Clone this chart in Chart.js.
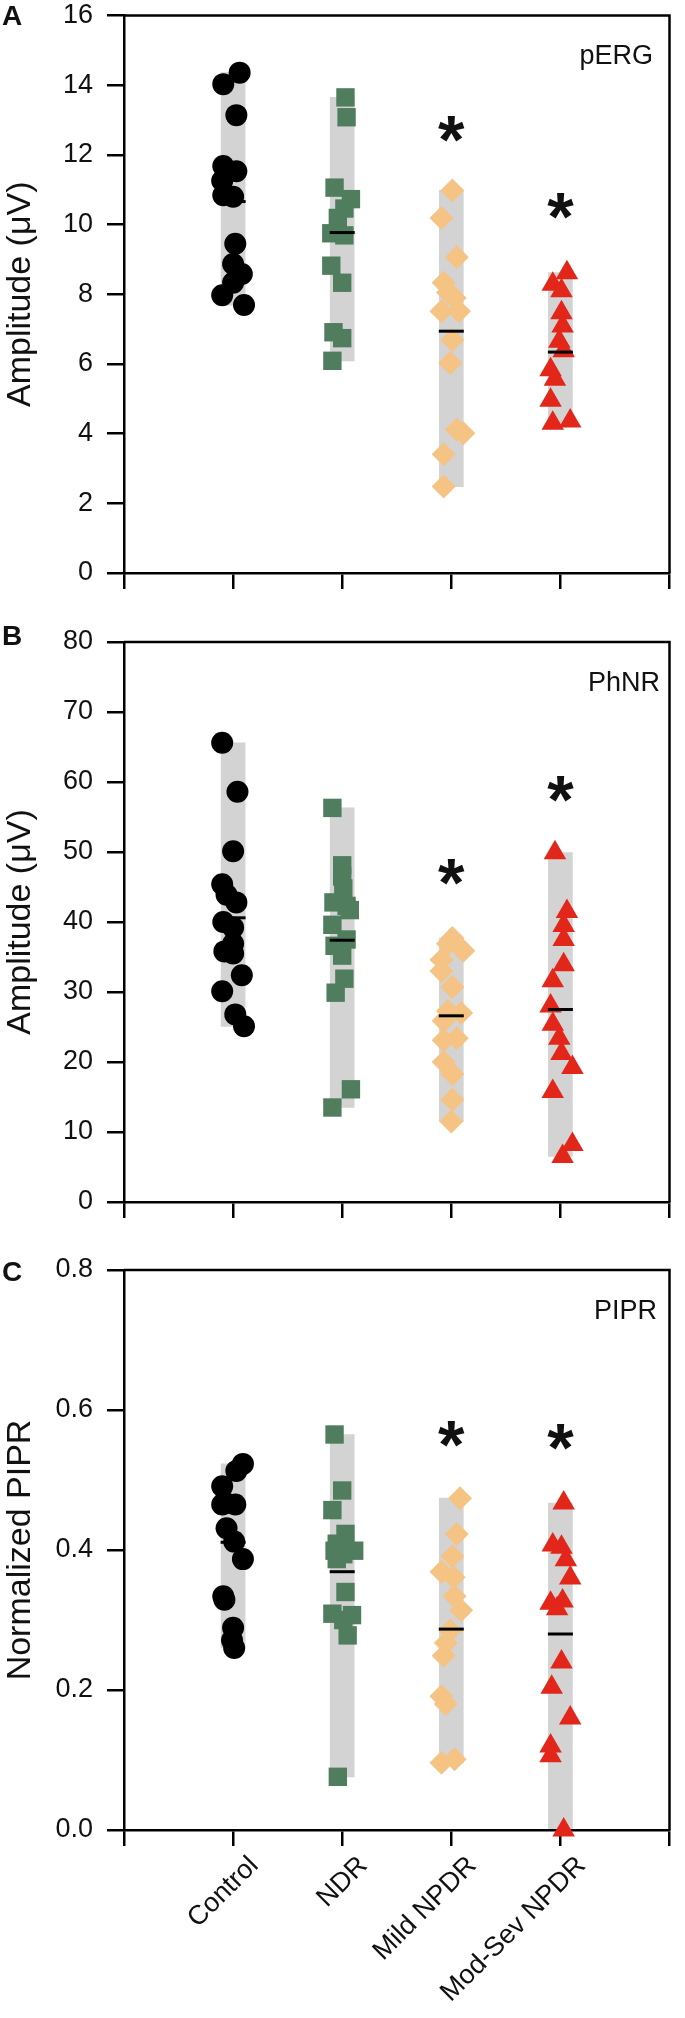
<!DOCTYPE html>
<html>
<head>
<meta charset="utf-8">
<script src="https://cdn.jsdelivr.net/npm/chart.js@4.4.1/dist/chart.umd.min.js"></script>
<style>
  html, body { margin: 0; padding: 0; background: #fff; }
  #wrap { position: relative; width: 685px; height: 2018px; }
  canvas { position: absolute; left: 0; }
</style>
</head>
<body>
<div id="wrap">
  <canvas id="chartA" width="685" height="620" style="top:0px"></canvas>
  <canvas id="chartB" width="685" height="630" style="top:620px"></canvas>
  <canvas id="chartC" width="685" height="768" style="top:1250px"></canvas>
</div>
<script>
const groups = ['Control', 'NDR', 'Mild NPDR', 'Mod-Sev NPDR'];

// A - pERG amplitude (uV); *X = horizontal jitter around the group position
const pergControl = [14.36, 14.03, 13.14, 11.68, 11.53, 11.26, 10.84, 10.80, 9.45, 8.87, 8.58, 8.33, 7.97, 7.69];
const pergControlX = [0.06, -0.09, 0.03, -0.09, 0.03, -0.10, -0.09, 0.0, 0.02, 0.0, 0.08, 0.0, -0.10, 0.10];
const pergNdr = [13.65, 13.08, 11.06, 10.73, 10.46, 10.19, 9.75, 9.69, 8.82, 8.33, 6.91, 6.74, 6.09];
const pergNdrX = [0.03, 0.04, -0.07, 0.08, 0.02, -0.04, -0.10, 0.02, -0.10, 0.0, -0.08, 0.0, -0.09];
const pergMild = [10.98, 10.19, 9.06, 8.33, 8.05, 7.89, 7.51, 7.51, 6.69, 6.03, 4.12, 4.01, 3.41, 2.48];
const pergMildX = [0.01, -0.09, 0.05, -0.07, -0.03, 0.03, -0.09, 0.07, 0.01, -0.01, 0.05, 0.11, -0.07, -0.07];
const pergMod = [8.62, 8.29, 8.10, 7.47, 7.09, 6.65, 6.38, 5.83, 5.56, 4.96, 4.30, 4.36];
const pergModX = [0.06, -0.07, 0.01, 0.01, 0.02, -0.01, 0.03, -0.09, -0.05, -0.09, -0.07, 0.09];
const pergMean = [10.66, 9.77, 6.94, 6.34];
const pergStar = [null, null, 12.6, 10.4];

// B - PhNR amplitude (uV)
const phnrControl = [65.6, 58.6, 50.1, 45.4, 43.9, 42.8, 40.0, 39.2, 36.9, 35.8, 35.5, 32.4, 30.1, 26.8, 25.1];
const phnrControlX = [-0.10, 0.04, 0.0, -0.10, -0.06, 0.03, -0.09, 0.0, 0.0, -0.08, 0.0, 0.08, -0.10, 0.02, 0.10];
const phnrNdr = [56.3, 48.1, 46.5, 44.8, 42.8, 42.3, 41.7, 39.6, 37.5, 36.6, 35.2, 31.9, 29.9, 16.1, 13.5];
const phnrNdrX = [-0.09, 0.0, 0.0, 0.01, -0.08, 0.04, 0.07, -0.09, 0.04, -0.07, 0.0, 0.02, -0.06, 0.08, -0.09];
const phnrMild = [37.7, 36.9, 35.9, 34.6, 33.0, 30.7, 27.3, 27.0, 25.9, 23.4, 23.1, 20.0, 18.3, 14.6, 11.5];
const phnrMildX = [0.01, -0.03, 0.11, -0.09, -0.09, 0.01, -0.03, 0.09, -0.07, 0.05, -0.07, -0.07, 0.01, 0.01, 0.0];
const phnrMod = [49.9, 41.5, 39.5, 37.5, 33.9, 31.6, 28.0, 25.4, 23.4, 21.2, 19.2, 15.8, 8.2, 6.5];
const phnrModX = [-0.05, 0.06, 0.03, 0.03, 0.03, -0.07, -0.09, -0.07, -0.01, 0.01, 0.11, -0.07, 0.11, 0.02];
const phnrMean = [40.6, 37.4, 26.6, 27.5];
const phnrStar = [null, null, 46.5, 58.3];

// C - normalized PIPR
const piprControl = [0.523, 0.513, 0.491, 0.467, 0.465, 0.465, 0.431, 0.412, 0.387, 0.334, 0.329, 0.289, 0.271, 0.260];
const piprControlX = [0.09, 0.03, -0.10, -0.07, 0.02, -0.10, -0.06, 0.01, 0.09, -0.09, -0.08, 0.0, -0.01, 0.01];
const piprNdr = [0.565, 0.485, 0.457, 0.423, 0.409, 0.399, 0.399, 0.394, 0.387, 0.340, 0.309, 0.307, 0.300, 0.278, 0.076];
const piprNdrX = [-0.07, 0.0, -0.09, 0.03, -0.05, -0.07, 0.11, 0.01, -0.05, 0.03, -0.09, 0.09, 0.01, 0.05, -0.04];
const piprMild = [0.474, 0.423, 0.391, 0.369, 0.361, 0.334, 0.314, 0.285, 0.267, 0.249, 0.191, 0.180, 0.096, 0.101];
const piprMildX = [0.08, 0.05, 0.01, -0.09, 0.02, 0.03, 0.09, -0.01, -0.05, -0.07, -0.09, -0.05, -0.09, 0.03];
const piprMod = [0.467, 0.407, 0.404, 0.386, 0.360, 0.324, 0.327, 0.316, 0.240, 0.204, 0.160, 0.120, 0.106, 0.000];
const piprModX = [0.03, -0.07, 0.01, 0.05, 0.09, -0.09, 0.02, -0.03, 0.01, -0.08, 0.09, -0.09, -0.09, 0.03];
const piprMean = [0.411, 0.369, 0.287, 0.280];
const piprStar = [null, null, 0.558, 0.554];

const FONT = '"Liberation Sans", Arial, Helvetica, sans-serif';
const markers = [
  { color: '#000000', style: 'circle', r: 11 },
  { color: '#4f7d5e', style: 'rect', r: 13 },
  { color: '#f5c383', style: 'rectRot', r: 12 },
  { color: '#e3261a', style: 'triangle', r: 13 }
];

function decor(o) {
  return {
    id: 'decor' + o.letter,
    afterDatasetsDraw(chart) {
      const { ctx, chartArea: a, scales } = chart;
      ctx.save();
      ctx.strokeStyle = '#000';
      ctx.lineWidth = 2.5;
      ctx.beginPath();
      ctx.moveTo(a.left, a.top);
      ctx.lineTo(a.right, a.top);
      ctx.lineTo(a.right, a.bottom);
      ctx.stroke();

      ctx.fillStyle = '#111';
      ctx.textBaseline = 'alphabetic';
      ctx.font = 'bold 28px ' + FONT;
      ctx.textAlign = 'left';
      ctx.fillText(o.letter, 2, o.letterY);

      ctx.font = '27px ' + FONT;
      ctx.textAlign = 'right';
      ctx.fillText(o.name, o.nameX, a.top + 48.5);

      ctx.font = 'bold 68px ' + FONT;
      ctx.textAlign = 'center';
      o.stars.forEach((s, g) => {
        if (s === null) return;
        ctx.fillText('*', scales.x.getPixelForValue(g + 1), scales.y.getPixelForValue(s) + 29);
      });
      ctx.restore();
    }
  };
}

function makePanel(id, o) {
  const datasets = [];
  o.series.forEach((vals, g) => {
    const m = markers[g];
    datasets.push({
      type: 'scatter',
      data: vals.map((v, i) => ({ x: g + 1 + o.jitter[g][i], y: v })),
      pointStyle: m.style,
      pointRadius: m.r,
      backgroundColor: m.color,
      borderColor: m.color,
      borderWidth: 0,
      clip: false,
      order: g === 0 ? 1 : 3
    });
  });
  datasets.push({
    type: 'scatter',
    data: o.means.map((v, g) => ({ x: g + 1, y: v })),
    pointStyle: 'line',
    pointRadius: 12.5,
    borderColor: '#000',
    borderWidth: 3,
    clip: false,
    order: 2
  });
  datasets.push({
    type: 'bar',
    data: o.series.map((vals, g) => ({ x: g + 1, y: [Math.min(...vals), Math.max(...vals)] })),
    backgroundColor: '#d3d3d3',
    barThickness: 24,
    order: 5
  });

  return new Chart(document.getElementById(id), {
    type: 'scatter',
    data: { datasets },
    options: {
      responsive: false,
      devicePixelRatio: 1,
      animation: false,
      events: [],
      layout: { padding: { top: o.padTop, right: 6, left: 0, bottom: 0 } },
      plugins: { legend: { display: false }, tooltip: { enabled: false } },
      scales: {
        x: {
          type: 'linear',
          min: 0,
          max: 5,
          offset: false,
          grid: { offset: false, drawOnChartArea: false, tickLength: 16, color: '#000', lineWidth: 2.5 },
          border: { color: '#000', width: 2.5 },
          ticks: {
            stepSize: 1,
            autoSkip: false,
            minRotation: 45,
            maxRotation: 45,
            padding: 4,
            labelOffset: 21,
            color: '#111',
            font: { family: FONT, size: 27 },
            callback: v => (o.labels ? (groups[v - 1] || '') : '')
          },
          afterFit: s => { s.height = o.xHeight; s.paddingLeft = 0; s.paddingRight = 0; }
        },
        y: {
          type: 'linear',
          min: 0,
          max: o.yMax,
          grid: { drawOnChartArea: false, tickLength: 17, color: '#000', lineWidth: 2.5 },
          border: { color: '#000', width: 2.5 },
          ticks: {
            stepSize: o.yStep,
            padding: 14,
            color: '#111',
            font: { family: FONT, size: 27 },
            callback: o.yFmt
          },
          title: { display: true, text: o.yTitle, color: '#111', padding: 0, font: { family: FONT, size: 34 } },
          afterFit: s => { s.width = 124; s.paddingTop = 0; s.paddingBottom = 0; }
        }
      }
    },
    plugins: [decor(o)]
  });
}

makePanel('chartA', {
  series: [pergControl, pergNdr, pergMild, pergMod],
  jitter: [pergControlX, pergNdrX, pergMildX, pergModX],
  means: pergMean, stars: pergStar,
  yMax: 16, yStep: 2, yFmt: v => v,
  yTitle: 'Amplitude (\u03bcV)', name: 'pERG', nameX: 653,
  letter: 'A', letterY: 25, padTop: 13, xHeight: 47, labels: false
});

makePanel('chartB', {
  series: [phnrControl, phnrNdr, phnrMild, phnrMod],
  jitter: [phnrControlX, phnrNdrX, phnrMildX, phnrModX],
  means: phnrMean, stars: phnrStar,
  yMax: 80, yStep: 10, yFmt: v => v,
  yTitle: 'Amplitude (\u03bcV)', name: 'PhNR', nameX: 660,
  letter: 'B', letterY: 25, padTop: 22, xHeight: 48, labels: false
});

makePanel('chartC', {
  series: [piprControl, piprNdr, piprMild, piprMod],
  jitter: [piprControlX, piprNdrX, piprMildX, piprModX],
  means: piprMean, stars: piprStar,
  yMax: 0.8, yStep: 0.2, yFmt: v => Number(v).toFixed(1),
  yTitle: 'Normalized PIPR', name: 'PIPR', nameX: 657,
  letter: 'C', letterY: 31, padTop: 20, xHeight: 188, labels: true
});
</script>
</body>
</html>
